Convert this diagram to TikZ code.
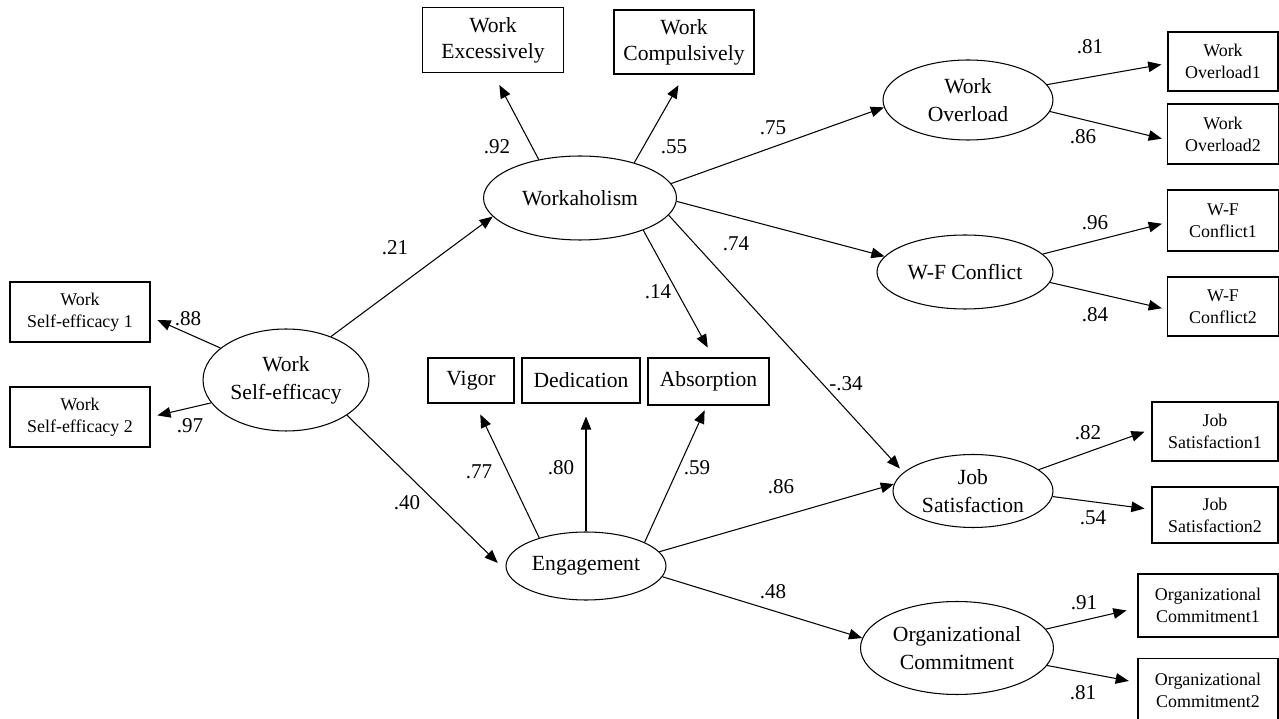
\documentclass[tikz,border=0pt]{standalone}
\usepackage{fontspec}
\setmainfont{Liberation Serif}
\usepackage{tikz}
\usetikzlibrary{shapes.geometric,arrows.meta}

\tikzset{
  lat/.style={draw, ellipse, inner sep=0pt, align=center, font=\fontsize{12.3}{16}\selectfont},
  obs/.style={draw, rectangle, inner sep=0pt, align=center, font=\fontsize{12.3}{14.7}\selectfont},
  obss/.style={obs, font=\fontsize{10.2}{12.4}\selectfont},
  coef/.style={inner sep=0pt, font=\fontsize{12}{14}\selectfont},
  pth/.style={-{Triangle[length=7.5pt,width=6pt]}, line width=0.6pt}
}

\begin{document}
\begin{tikzpicture}[x=0.02cm,y=-0.02cm,line width=0.6pt]
   \useasboundingbox (0,0) rectangle (1279,719);
   % latent variables
   \node [lat, minimum width=3.32cm, minimum height=2.04cm] (wse) at (286,380) {Work\\Self-efficacy};
   \node [lat, minimum width=3.86cm, minimum height=1.68cm] (wah) at (580,198) {Workaholism};
   \node [lat, minimum width=3.2cm, minimum height=1.36cm] (eng) at (586,566) {Engagement};
   \node [lat, minimum width=3.4cm, minimum height=1.6cm] (wol) at (968,100) {Work\\Overload};
   \node [lat, minimum width=3.52cm, minimum height=1.48cm] (wfc) at (965,272) {W-F Conflict};
   \node [lat, minimum width=3.2cm, minimum height=1.46cm] (js) at (973,491) {Job\\Satisfaction};
   \node [lat, minimum width=3.86cm, minimum height=1.86cm] (oc) at (957,648) {Organizational\\Commitment};
   % indicators
   \node [obss, minimum width=2.8cm, minimum height=1.2cm] (wse1) at (80,312) {Work\\Self-efficacy 1};
   \node [obss, minimum width=2.8cm, minimum height=1.2cm] (wse2) at (80,417) {Work\\Self-efficacy 2};
   \node [obs, minimum width=2.82cm, minimum height=1.3cm] (wex) at (493,40) {Work\\Excessively};
   \node [obs, minimum width=2.8cm, minimum height=1.28cm] (wcp) at (684,42) {Work\\Compulsively};
   \node [obs, minimum width=1.72cm, minimum height=0.9cm] (vig) at (471,380.5) {Vigor};
   \node [obs, minimum width=2.36cm, minimum height=0.9cm] (ded) at (581,380.5) {Dedication};
   \node [obs, minimum width=2.42cm, minimum height=0.94cm] (abs) at (708.5,381.5) {Absorption};
   \node [obss, minimum width=2.2cm, minimum height=1.18cm] (wol1) at (1223,61.5) {Work\\Overload1};
   \node [obss, minimum width=2.22cm, minimum height=1.2cm] (wol2) at (1223,134) {Work\\Overload2};
   \node [obss, minimum width=2.22cm, minimum height=1.22cm] (wfc1) at (1223,220.5) {W-F\\Conflict1};
   \node [obss, minimum width=2.22cm, minimum height=1.18cm] (wfc2) at (1223,306.5) {W-F\\Conflict2};
   \node [obss, minimum width=2.52cm, minimum height=1.18cm] (js1) at (1215,431.5) {Job\\Satisfaction1};
   \node [obss, minimum width=2.52cm, minimum height=1.12cm] (js2) at (1215,515) {Job\\Satisfaction2};
   \node [obss, minimum width=2.8cm, minimum height=1.26cm] (oc1) at (1208,605.5) {Organizational\\Commitment1};
   \node [obss, minimum width=2.8cm, minimum height=1.26cm] (oc2) at (1208,690) {Organizational\\Commitment2};
    \path[pth]
    (wse.154) edge [shorten >=4.3pt] (wse1.-4)
    (wse.197) edge [shorten >=4pt] (wse2.0)
    (wse.44) edge (wah.192)
    (wse.-30) edge [shorten >=7pt] (eng.184)
    (wah.137) edge [shorten >=7.7pt] (wex.-90)
    (wah.33) edge [shorten >=7pt] (wcp.-89)
    (wah.9) edge (wol.185)
    (wah.-2) edge (wfc.169)
    (wah.-27) edge [shorten >=6.4pt] (abs.79)
    (wah.-11) edge [shorten >=3pt] (js.165)
    (eng.149) edge [shorten >=6.9pt] (vig.-80)
    (eng.north) edge [shorten >=7.4pt] (eng.north |- ded.south)
    (eng.22) edge [shorten >=3pt] (abs.-94)
    (eng.11) edge (js.175)
    (eng.-8) edge (oc.174)
    (wol.11) edge [shorten >=3.5pt] (wol1.182)
    (wol.-8) edge [shorten >=3pt] (wol2.186)
    (wfc.13) edge [shorten >=3pt] (wfc1.182)
    (wfc.-7) edge [shorten >=3pt] (wfc2.183)
    (js.18) edge [shorten >=4.2pt] (js1.178)
    (js.-4) edge [shorten >=4pt] (js2.175)
    (oc.12) edge [shorten >=6.4pt] (oc1.182)
    (oc.-11) edge [shorten >=5pt] (oc2.174);
   % loadings and paths
   \node [coef] (c88) at (188,319) {.88};
   \node [coef] (c97) at (190,426) {.97};
   \node [coef] (c21) at (395,248) {.21};
   \node [coef] (c40) at (407,503) {.40};
   \node [coef] (c92) at (497,147) {.92};
   \node [coef] (c55) at (674,147) {.55};
   \node [coef] (c75) at (773,128) {.75};
   \node [coef] (c74) at (736,244) {.74};
   \node [coef] (c14) at (658,292) {.14};
   \node [coef] (cm34) at (846,384) {-.34};
   \node [coef] (c77) at (479,472) {.77};
   \node [coef] (c80) at (561,468) {.80};
   \node [coef] (c59) at (697,468) {.59};
   \node [coef] (c86a) at (781,487) {.86};
   \node [coef] (c48) at (773,592) {.48};
   \node [coef] (c81a) at (1090,47) {.81};
   \node [coef] (c86b) at (1083,137) {.86};
   \node [coef] (c96) at (1095,223) {.96};
   \node [coef] (c84) at (1095,315) {.84};
   \node [coef] (c82) at (1088,433) {.82};
   \node [coef] (c54) at (1093,518) {.54};
   \node [coef] (c91) at (1084,603) {.91};
   \node [coef] (c81b) at (1083,693) {.81};
\end{tikzpicture}
\end{document}
